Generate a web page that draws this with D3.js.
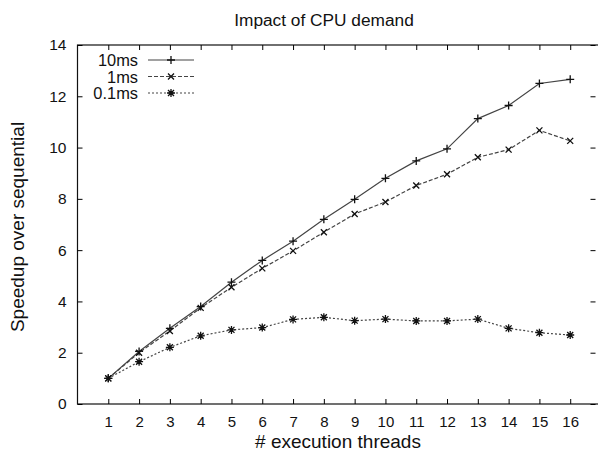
<!DOCTYPE html>
<html>
<head>
<meta charset="utf-8">
<script src="https://cdn.jsdelivr.net/npm/d3@7"></script>
<style>
  body { margin: 0; background: #fff; }
  text { font-family: "Liberation Sans", Arial, sans-serif; fill: #111; }
</style>
</head>
<body>
<div id="chart"></div>
<script>
// data
var threads = [1, 2, 3, 4, 5, 6, 7, 8, 9, 10, 11, 12, 13, 14, 15, 16];
var speed10ms = [1, 2.05, 2.95, 3.8, 4.75, 5.6, 6.35, 7.2, 7.98, 8.8, 9.48, 9.95, 11.13, 11.64, 12.5, 12.66];
var speed1ms = [1, 2.0, 2.85, 3.75, 4.55, 5.29, 5.97, 6.7, 7.41, 7.88, 8.52, 8.96, 9.62, 9.92, 10.67, 10.26];
var speed01ms = [1, 1.65, 2.21, 2.66, 2.89, 2.98, 3.3, 3.38, 3.25, 3.31, 3.24, 3.24, 3.31, 2.95, 2.78, 2.69];
var seriesNames = ["10ms", "1ms", "0.1ms"];
var yTicks = [0, 2, 4, 6, 8, 10, 12, 14];

function init() {
  var w = 598, h = 453;
  var left = 77.5, right = 601, top = 45, bottom = 404;

  var svg = d3.select("#chart").append("svg")
    .attr("width", w)
    .attr("height", h);

  var x = d3.scaleLinear().domain([0, 17]).range([left, right]);
  var y = d3.scaleLinear().domain([0, 14]).range([bottom, top]);

  // border box
  svg.append("rect")
    .attr("x", left).attr("y", top)
    .attr("width", right - left).attr("height", bottom - top)
    .attr("fill", "none").attr("stroke", "#111").attr("stroke-width", 1.2);

  // axes with inward ticks
  svg.append("g")
    .attr("transform", "translate(0," + bottom + ")")
    .call(d3.axisBottom(x).tickValues(threads).tickSize(-5).tickPadding(12))
    .call(function (g) {
      g.select(".domain").remove();
      g.selectAll("text").attr("font-size", "15px").attr("font-family", "Liberation Sans, Arial, sans-serif");
    });

  svg.append("g")
    .attr("transform", "translate(0," + top + ")")
    .call(d3.axisTop(x).tickValues(threads).tickSize(-5).tickFormat(""))
    .call(function (g) { g.select(".domain").remove(); });

  svg.append("g")
    .attr("transform", "translate(" + left + ",0)")
    .call(d3.axisLeft(y).tickValues(yTicks).tickSize(-5).tickPadding(11))
    .call(function (g) {
      g.select(".domain").remove();
      g.selectAll("text").attr("font-size", "15.5px").attr("font-family", "Liberation Sans, Arial, sans-serif");
    });

  svg.append("g")
    .attr("transform", "translate(" + (w - 2.5) + ",0)")
    .call(d3.axisRight(y).tickValues(yTicks).tickSize(-5).tickFormat(""))
    .call(function (g) { g.select(".domain").remove(); });

  // labels
  svg.append("text")
    .attr("x", 324).attr("y", 26)
    .attr("text-anchor", "middle")
    .attr("font-size", "17.3px")
    .text("Impact of CPU demand");

  svg.append("text")
    .attr("x", 338).attr("y", 448)
    .attr("text-anchor", "middle")
    .attr("font-size", "19px")
    .text("# execution threads");

  svg.append("text")
    .attr("transform", "translate(24,227) rotate(-90)")
    .attr("text-anchor", "middle")
    .attr("font-size", "19px")
    .text("Speedup over sequential");

  var allSeries = [speed10ms, speed1ms, speed01ms];
  var dashes = [null, "4,2", "2,2"];
  var markers = ["plus", "cross", "star"];

  function drawMarker(g, kind, cx, cy) {
    var s = 4;
    var path = "";
    if (kind === "plus" || kind === "star") {
      path += "M" + (cx - s) + "," + cy + "H" + (cx + s) + "M" + cx + "," + (cy - s) + "V" + (cy + s);
    }
    if (kind === "cross" || kind === "star") {
      var d = s * 0.75;
      path += "M" + (cx - d) + "," + (cy - d) + "L" + (cx + d) + "," + (cy + d) +
              "M" + (cx - d) + "," + (cy + d) + "L" + (cx + d) + "," + (cy - d);
    }
    g.append("path").attr("d", path).attr("stroke", "#111").attr("stroke-width", 1.3).attr("fill", "none");
  }

  var line = d3.line()
    .x(function (d, i) { return x(threads[i]); })
    .y(function (d) { return y(d); });

  allSeries.forEach(function (vals, k) {
    svg.append("path")
      .datum(vals)
      .attr("d", line)
      .attr("fill", "none")
      .attr("stroke", "#444")
      .attr("stroke-width", 1.2)
      .attr("stroke-dasharray", dashes[k]);
    var g = svg.append("g");
    vals.forEach(function (v, i) {
      drawMarker(g, markers[k], x(threads[i]), y(v));
    });
  });

  // legend
  var legY = [60, 76.5, 93];
  seriesNames.forEach(function (name, k) {
    svg.append("text")
      .attr("x", 138).attr("y", legY[k] + 6)
      .attr("text-anchor", "end")
      .attr("font-size", "16.4px")
      .text(name);
    svg.append("line")
      .attr("x1", 148).attr("x2", 194)
      .attr("y1", legY[k]).attr("y2", legY[k])
      .attr("stroke", "#444").attr("stroke-width", 1.2)
      .attr("stroke-dasharray", dashes[k]);
    drawMarker(svg, markers[k], 171, legY[k]);
  });
}

window.onload = init;
</script>
</body>
</html>
